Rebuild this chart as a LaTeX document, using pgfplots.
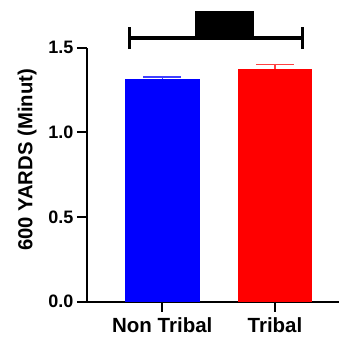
\documentclass[border=0pt]{standalone}
\usepackage{fontspec}
\setmainfont{Liberation Sans}
\usepackage{pgfplots}
\pgfplotsset{compat=1.18}
\definecolor{barblue}{RGB}{0,0,255}
\definecolor{barred}{RGB}{255,0,0}
\begin{document}
\begin{tikzpicture}
\useasboundingbox (-87pt,-37.3pt) rectangle (252pt,301.7pt);
\begin{axis}[
  at={(0,0)}, anchor=south west,
  scale only axis, width=252pt, height=254pt,
  xmin=-0.668, xmax=1.568, ymin=0, ymax=1.5,
  axis x line*=bottom, axis y line*=left,
  axis line style={line width=2pt, -},
  xtick={0,1}, xticklabels={Non Tribal, Tribal},
  ytick={0,0.5,1,1.5},
  /pgf/number format/fixed, /pgf/number format/fixed zerofill, /pgf/number format/precision=1,
  /pgf/number format/assume math mode=true,
  yticklabel style={font=\fontsize{18}{18}\selectfont\bfseries},
  xticklabel style={font=\fontsize{20.5}{20}\selectfont\bfseries, yshift=-2pt},
  xtick align=outside, ytick align=outside, major tick length=10pt,
  tick style={line width=2pt, black},
  minor tick num=0,
  ylabel={600 YARDS (Minut)},
  ylabel style={font=\fontsize{20.3}{20}\selectfont\bfseries, at={(axis description cs:-0.238,0.558)}, anchor=center},
  clip=false,
]
\addplot[ybar, bar width=0.665, bar shift=0pt, fill=barblue, draw=none,
  error bars/.cd, y dir=plus, y explicit,
  error bar style={line width=1.5pt, color=blue!75},
  error mark options={rotate=90, mark size=19pt, line width=1.5pt, color=blue!75}]
  coordinates {(0,1.315) +- (0,0.012)};
\addplot[ybar, bar width=0.665, bar shift=0pt, fill=barred, draw=none,
  error bars/.cd, y dir=plus, y explicit,
  error bar style={line width=1.5pt, color=red!75},
  error mark options={rotate=90, mark size=19pt, line width=1.5pt, color=red!75}]
  coordinates {(1,1.373) +- (0,0.027)};
% x tick marks
\draw[black, line width=2pt] (axis cs:0,0) -- ([yshift=-10pt]axis cs:0,0);
\draw[black, line width=2pt] (axis cs:1,0) -- ([yshift=-10pt]axis cs:1,0);
% significance bracket
\addplot[black, line width=3.5pt, no marks] coordinates {(-0.287,1.557) (1.24,1.557)};
\addplot[black, line width=3pt, no marks] coordinates {(-0.287,1.492) (-0.287,1.622)};
\addplot[black, line width=3pt, no marks] coordinates {(1.24,1.492) (1.24,1.622)};
\addplot[fill=black, draw=none, no marks] coordinates {(0.290,1.557) (0.814,1.557) (0.814,1.717) (0.290,1.717)} --cycle;
\end{axis}
\end{tikzpicture}
\end{document}
